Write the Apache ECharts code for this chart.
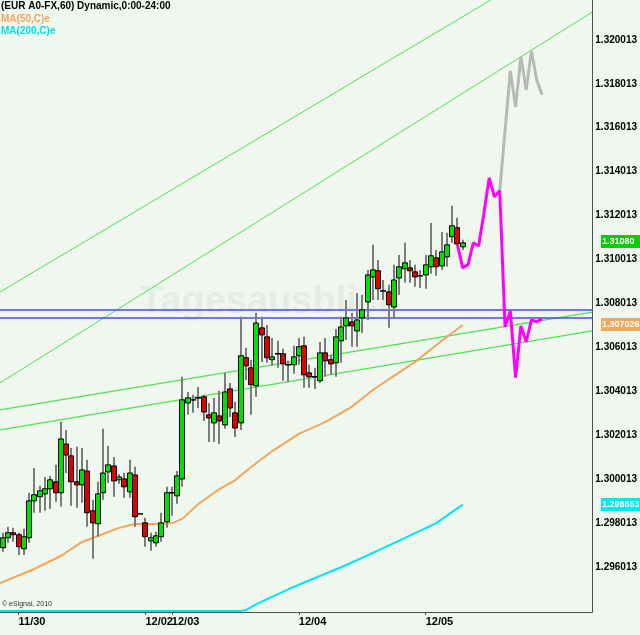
<!DOCTYPE html>
<html><head><meta charset="utf-8">
<script src="https://cdn.jsdelivr.net/npm/echarts@6/dist/echarts.min.js"></script>
<style>html,body{margin:0;padding:0;background:#f0f7ef}#c{width:640px;height:635px}</style>
</head><body><div id="c"></div>
<script>
// ---- data ----
const slotCount = 112;
const xLabelIdx = [3, 27, 32, 56, 80];
const xLabelText = ['11/30', '12/02', '12/03', '12/04', '12/05'];
const yTicks = [1.296013, 1.298013, 1.300013, 1.302013, 1.304013, 1.306013, 1.308013, 1.310013, 1.312013, 1.314013, 1.316013, 1.318013, 1.320013];
const yMin = 1.29396, yMax = 1.32183;
// [open, close, low, high]
const candles = [
[1.29689,1.29734,1.29670,1.29757],[1.29734,1.29757,1.29711,1.29784],[1.29757,1.29748,1.29716,1.29780],[1.29748,1.29693,1.29656,1.29757],
[1.29684,1.29739,1.29656,1.29775],[1.29734,1.29902,1.29711,1.29939],[1.29902,1.29930,1.29848,1.30052],[1.29921,1.29948,1.29848,1.29971],
[1.29934,1.29957,1.29857,1.30011],[1.29957,1.29998,1.29866,1.30016],[1.29989,1.29939,1.29898,1.30066],[1.29939,1.30184,1.29875,1.30262],
[1.30161,1.30111,1.30029,1.30225],[1.30107,1.29989,1.29880,1.30143],[1.29989,1.29975,1.29871,1.30148],[1.29975,1.30043,1.29893,1.30143],
[1.30038,1.29848,1.29784,1.30089],[1.29857,1.29802,1.29638,1.29907],[1.29798,1.29934,1.29739,1.29989],[1.29939,1.30029,1.29907,1.30230],
[1.30034,1.30066,1.29984,1.30152],[1.30061,1.29993,1.29921,1.30102],[1.29998,1.30011,1.29980,1.30025],[1.30002,1.29966,1.29916,1.30029],
[1.29943,1.30029,1.29916,1.30089],[1.30020,1.29830,1.29784,1.30057],[1.29843,1.29843,1.29843,1.29843],[1.29802,1.29739,1.29693,1.29825],
[1.29720,1.29734,1.29675,1.29757],[1.29711,1.29743,1.29693,1.29761],[1.29739,1.29802,1.29716,1.29848],[1.29807,1.29939,1.29780,1.29966],
[1.29939,1.29939,1.29834,1.29966],[1.29925,1.30016,1.29889,1.30038],[1.30002,1.30362,1.29966,1.30467],[1.30348,1.30371,1.30294,1.30398],
[1.30362,1.30362,1.30303,1.30385],[1.30371,1.30371,1.30325,1.30421],[1.30376,1.30307,1.30266,1.30385],[1.30294,1.30280,1.30170,1.30348],
[1.30257,1.30303,1.30170,1.30371],[1.30289,1.30266,1.30161,1.30403],[1.30248,1.30398,1.30230,1.30485],[1.30412,1.30325,1.30284,1.30439],
[1.30303,1.30234,1.30193,1.30353],[1.30257,1.30563,1.30225,1.30740],[1.30554,1.30517,1.30453,1.30599],[1.30508,1.30431,1.30294,1.30545],
[1.30426,1.30712,1.30376,1.30758],[1.30690,1.30658,1.30535,1.30740],[1.30649,1.30554,1.30531,1.30703],[1.30545,1.30558,1.30517,1.30644],
[1.30572,1.30572,1.30508,1.30631],[1.30572,1.30526,1.30449,1.30595],[1.30522,1.30522,1.30444,1.30540],[1.30522,1.30558,1.30481,1.30608],
[1.30563,1.30604,1.30522,1.30644],[1.30608,1.30476,1.30417,1.30649],[1.30485,1.30467,1.30417,1.30522],[1.30467,1.30467,1.30412,1.30508],
[1.30449,1.30576,1.30439,1.30626],[1.30576,1.30540,1.30467,1.30644],[1.30545,1.30526,1.30476,1.30567],[1.30531,1.30649,1.30467,1.30685],
[1.30631,1.30694,1.30531,1.30740],[1.30699,1.30735,1.30635,1.30817],[1.30717,1.30699,1.30604,1.30758],[1.30676,1.30726,1.30604,1.30849],
[1.30735,1.30772,1.30667,1.30840],[1.30808,1.30931,1.30726,1.30954],[1.30922,1.30954,1.30817,1.31068],[1.30950,1.30868,1.30817,1.30999],
[1.30858,1.30858,1.30817,1.30908],[1.30854,1.30795,1.30690,1.30886],[1.30785,1.30908,1.30735,1.30977],[1.30917,1.30968,1.30840,1.31022],
[1.30959,1.30986,1.30895,1.31077],[1.30963,1.30950,1.30895,1.30999],[1.30945,1.30922,1.30877,1.30977],[1.30927,1.30927,1.30872,1.30954],
[1.30931,1.30977,1.30868,1.31022],[1.30968,1.31018,1.30936,1.31168],[1.31009,1.30968,1.30927,1.31045],[1.30972,1.31036,1.30954,1.31127],
[1.31013,1.31068,1.30968,1.31123],[1.31105,1.31155,1.31077,1.31246],[1.31146,1.31072,1.31068,1.31191],[1.31059,1.31077,1.31045,1.31091]
];
const ma50 = [[-0.5,1.29528],[6,1.29592],[11,1.29651],[15,1.29715],[18,1.29742],[22,1.29779],[25,1.29797],[29,1.29797],[32,1.29801],[34,1.29820],[37,1.29888],[41,1.29956],[44,1.29997],[47,1.30056],[51,1.30129],[56,1.30207],[61,1.30261],[66,1.30330],[70,1.30407],[74,1.30471],[78,1.30535],[83,1.30630],[87,1.30703]];
const ma200 = [[-0.5,1.29400],[45,1.29400],[46,1.29405],[48,1.29432],[55,1.29510],[65,1.29610],[74,1.29710],[82,1.29801],[87,1.29885]];
const projMagenta = [[86,1.31068],[87,1.30963],[88,1.30977],[89,1.31077],[90,1.31063],[91,1.31210],[92,1.31373],[93,1.31287],[94,1.31314],[95,1.30694],[96,1.30767],[97,1.30463],[98,1.30699],[99,1.30626],[100,1.30726],[101,1.30717],[102,1.30731]];
const projGray = [[94,1.31314],[95,1.31587],[96,1.31860],[97,1.31696],[98,1.31924],[99,1.31774],[100,1.31951],[101,1.31819],[102,1.31751]];
const trendUpper1 = [[-0.5,1.30853],[92.3,1.32183]];
const trendUpper2 = [[-0.5,1.30439],[111.5,1.32128]];
const trendLower1 = [[-0.5,1.30316],[111.5,1.30762]];
const trendLower2 = [[-0.5,1.30225],[111.5,1.30676]];
const hLevels = [1.30771, 1.30735];
const lastPrice = 1.31080, ma50Last = 1.307026, ma200Last = 1.298853;

// ---- chart ----
const cats = [];
for (let i = 0; i < slotCount; i++) { const k = xLabelIdx.indexOf(i); cats.push(k >= 0 ? xLabelText[k] : ''); }
const chart = echarts.init(document.getElementById('c'), null, {renderer: 'canvas'});
const lineS = (data, color, width, z) => ({type: 'line', xAxisIndex: 1, yAxisIndex: 0, data, symbol: 'none', silent: true, z: z,
  lineStyle: {color, width}, animation: false});
const series = [
  lineS(trendUpper1, '#4fe04f', 1, 1), lineS(trendUpper2, '#4fe04f', 1, 1),
  lineS(trendLower1, '#4fe04f', 1.2, 1), lineS(trendLower2, '#4fe04f', 1.2, 1),
  ...hLevels.map(v => lineS([[-0.5, v], [111.5, v]], '#4a4ae8', 1.5, 1)),
  lineS(ma200, '#00e6ee', 2, 2), lineS(ma50, '#f3a55a', 2, 2),
  {type: 'custom', xAxisIndex: 0, yAxisIndex: 0, z: 3, animation: false, silent: true,
    data: candles.map((c, i) => [i, c[0], c[1], c[2], c[3]]),
    encode: {x: 0, y: [1, 2, 3, 4]},
    renderItem: function (params, api) {
      const x = api.value(0), o = api.value(1), c = api.value(2), l = api.value(3), h = api.value(4);
      const pO = api.coord([x, o]), pC = api.coord([x, c]), pL = api.coord([x, l]), pH = api.coord([x, h]);
      const cx = Math.round(pO[0]);
      const ch = [{type: 'line', shape: {x1: cx, y1: pH[1], x2: cx, y2: pL[1]}, style: {stroke: '#7c7c7c', lineWidth: 2}}];
      if (Math.abs(pO[1] - pC[1]) < 1) {
        ch.push({type: 'line', shape: {x1: cx - 3, y1: pO[1], x2: cx + 3, y2: pO[1]}, style: {stroke: '#000', lineWidth: 1.5}});
      } else {
        const top = Math.min(pO[1], pC[1]);
        ch.push({type: 'rect', shape: {x: cx - 2.5, y: top, width: 5, height: Math.abs(pO[1] - pC[1])},
          style: {fill: c > o ? '#00e000' : '#e00000', stroke: '#000', lineWidth: 1}});
      }
      return {type: 'group', children: ch};
    }},
  lineS(projGray, '#b8b8b8', 3, 4), lineS(projMagenta, '#ff00ff', 3, 5)
];
chart.setOption({
  backgroundColor: '#f0f7ef',
  animation: false,
  grid: {left: 0, right: 40, top: 0, bottom: 23, containLabel: false},
  xAxis: [
    {type: 'category', data: cats, boundaryGap: true,
      axisLine: {onZero: false, lineStyle: {color: '#505050', width: 1}},
      axisTick: {show: true, alignWithLabel: true, length: 3, interval: (i) => xLabelIdx.indexOf(i) >= 0, lineStyle: {color: '#505050'}},
      axisLabel: {interval: (i) => xLabelIdx.indexOf(i) >= 0, align: 'left', margin: 4, color: '#000', fontWeight: 'bold', fontSize: 11,
        fontFamily: '"Liberation Sans Narrow", "Liberation Sans", Arial, sans-serif'},
      splitLine: {show: false}},
    {type: 'value', min: -0.5, max: slotCount - 0.5, show: false}
  ],
  yAxis: {type: 'value', position: 'right', min: yMin, max: yMax, scale: true,
    axisLine: {show: true, onZero: false, lineStyle: {color: '#505050', width: 1}},
    axisTick: {show: false}, splitLine: {show: false},
    axisLabel: {customValues: yTicks, formatter: (v) => v.toFixed(6), color: '#000', fontWeight: 'bold', fontSize: 10, margin: 3,
      fontFamily: '"Liberation Sans", Arial, sans-serif'}},
  series: series
});
const yPix = (v) => chart.convertToPixel({yAxisIndex: 0}, v);
const box = (v, fill, label) => ([
  {type: 'rect', shape: {x: 601, y: Math.round(yPix(v)) - 7, width: 39, height: 13}, style: {fill}, z: 10},
  {type: 'text', x: 602, y: Math.round(yPix(v)), style: {text: label, fill: '#fff', font: 'bold 9px "Liberation Sans", Arial', verticalAlign: 'middle'}, z: 11}
]);
chart.setOption({graphic: [
  {type: 'text', left: 140, top: 284, z: 0, style: {text: 'Tagesausblick', fill: 'rgba(140,165,140,0.12)', font: 'bold 38px "Liberation Sans", Arial'}},
  {type: 'text', left: 1, top: 1, style: {text: '(EUR A0-FX,60) Dynamic,0:00-24:00', fill: '#000', font: 'bold 10px "Liberation Sans", Arial'}},
  {type: 'text', left: 1, top: 14, style: {text: 'MA(50,C)e', fill: '#f3a55a', font: 'bold 10px "Liberation Sans", Arial'}},
  {type: 'text', left: 1, top: 26, style: {text: 'MA(200,C)e', fill: '#00e0ec', font: 'bold 10px "Liberation Sans", Arial'}},
  {type: 'text', left: 2, top: 601, style: {text: '\u00a9 eSignal, 2010', fill: '#333', font: '7px "Liberation Sans", Arial'}},
  ...box(lastPrice, '#00d000', lastPrice.toFixed(5)),
  ...box(ma50Last, '#f0a860', ma50Last.toFixed(6)),
  ...box(ma200Last, '#00e8f0', ma200Last.toFixed(6))
]});
</script></body></html>
